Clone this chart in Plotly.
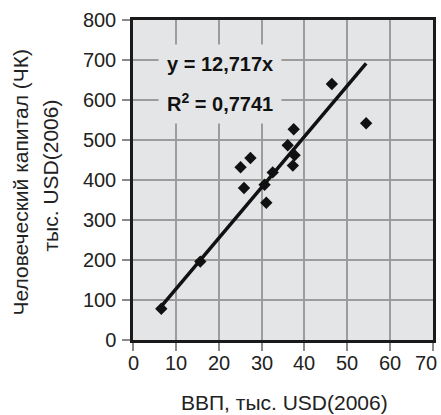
import plotly.graph_objects as go

# GDP per capita vs. human capital, thousand USD (2006)
gdp = [6.6, 15.7, 25.1, 27.4, 25.9, 30.7, 31.1, 32.6, 36.1, 37.5, 37.7, 37.3, 46.4, 54.4]
human_capital = [78, 196, 432, 455, 380, 388, 343, 419, 487, 527, 462, 436, 640, 542]

SLOPE = 12.717
R2 = 0.7741

x_ticks = [0, 10, 20, 30, 40, 50, 60, 70]
y_ticks = [0, 100, 200, 300, 400, 500, 600, 700, 800]

FONT = "Liberation Sans, Arial, sans-serif"
INK = "#111111"
TEXT = "#222222"
PLOT_BG = "#e4e5e7"
GRID = "#9c9c9c"

# regression through the origin, across the range of the data
fit_x = [min(gdp), max(gdp)]
fit_y = [SLOPE * v for v in fit_x]

fig = go.Figure()
fig.add_trace(go.Scatter(
    x=fit_x, y=fit_y, mode="lines",
    line=dict(color=INK, width=3.5), showlegend=False, hoverinfo="skip",
))
fig.add_trace(go.Scatter(
    x=gdp, y=human_capital, mode="markers",
    marker=dict(symbol="diamond", size=9.5, color=INK, line=dict(width=0)),
    showlegend=False,
))

def fmt(v, digits):
    return f"{v:.{digits}f}".replace(".", ",")

eq_font = dict(family=FONT, size=20, color=INK)
fig.add_annotation(
    x=20.4, y=690, xref="x", yref="y", showarrow=False,
    text=f"<b>y = {fmt(SLOPE, 3)}x</b>", font=eq_font,
    bgcolor=PLOT_BG, borderpad=8,
)
fig.add_annotation(
    x=20.4, y=595, xref="x", yref="y", showarrow=False,
    text=f"<b>R<sup>2</sup> = {fmt(R2, 4)}</b>", font=eq_font,
    bgcolor=PLOT_BG, borderpad=8,
)

LEFT, RIGHT, TOP, BOTTOM = 133, 8, 20, 75
W, H = 441, 415
plot_w = W - LEFT - RIGHT
plot_h = H - TOP - BOTTOM

def px_x(px):
    return (px - LEFT) / plot_w

def px_y(py):
    return (H - BOTTOM - py) / plot_h

# x tick labels as annotations so the last one can be pulled inside the page
tick_font = dict(family=FONT, size=20, color=TEXT)
for i, t in enumerate(x_ticks):
    last = i == len(x_ticks) - 1
    fig.add_annotation(
        x=t, y=0, xref="x", yref="paper", showarrow=False,
        xanchor="right" if last else "center", yanchor="middle",
        xshift=6 if last else 0, yshift=-23,
        text=str(t), font=tick_font,
    )

# axis titles; the y title is two lines set wider apart than default spacing
title_font = dict(family=FONT, size=21, color=TEXT)
fig.add_annotation(
    x=px_x(19.5), y=px_y(183), xref="paper", yref="paper",
    xanchor="center", yanchor="middle", showarrow=False, textangle=-90,
    text="Человеческий капитал (ЧК)", font=title_font,
)
fig.add_annotation(
    x=px_x(49.5), y=px_y(176), xref="paper", yref="paper",
    xanchor="center", yanchor="middle", showarrow=False, textangle=-90,
    text="тыс. USD(2006)", font=title_font,
)
fig.add_annotation(
    x=px_x(284.5), y=px_y(402), xref="paper", yref="paper",
    xanchor="center", yanchor="middle", showarrow=False,
    text="ВВП, тыс. USD(2006)", font=title_font,
)

axis_common = dict(
    showgrid=True, gridcolor=GRID, gridwidth=1.5,
    showline=True, linecolor="#1a1a1a", linewidth=2.5, mirror=True,
    ticks="outside", ticklen=8, tickcolor="#8a8a8a", tickwidth=1.5,
    tickfont=tick_font,
    zeroline=False, fixedrange=True, automargin=False,
)

fig.update_layout(
    width=W, height=H,
    margin=dict(l=LEFT, r=RIGHT, t=TOP, b=BOTTOM),
    paper_bgcolor="white", plot_bgcolor=PLOT_BG,
    xaxis=dict(range=[0, 70], tickvals=x_ticks, showticklabels=False, **axis_common),
    yaxis=dict(range=[0, 800], tickvals=y_ticks, ticklabelstandoff=2, **axis_common),
)

fig.write_html("out.html")
